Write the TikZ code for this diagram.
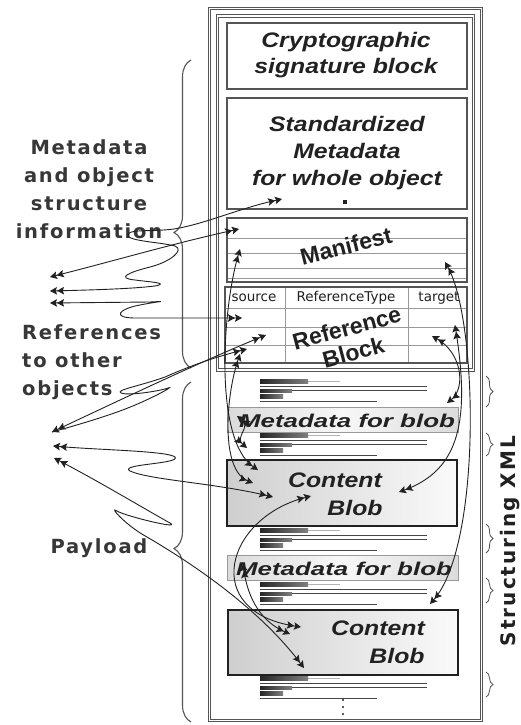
\documentclass[tikz,border=0pt]{standalone}
\usepackage{fontspec}
\setmainfont{Liberation Sans}
\newfontfamily\boxfont[FakeStretch=1.18]{Liberation Sans}
\newfontfamily\stripfont[FakeStretch=1.4]{Liberation Sans}
\newfontfamily\handfont[LetterSpace=9]{DejaVu Sans}
\newfontfamily\sidefont[LetterSpace=10]{DejaVu Sans}
\newfontfamily\tabfont{DejaVu Sans}
\usetikzlibrary{arrows.meta,decorations.pathreplacing}

\definecolor{ink}{gray}{0.13}
\definecolor{rim}{gray}{0.33}
\definecolor{rule}{gray}{0.6}

\tikzset{
  fl/.tip={Stealth[length=7pt,width=7.5pt,inset=1.3pt]Stealth[length=7pt,width=7.5pt,inset=1.3pt]},
  link/.style={draw=ink, line width=0.9pt, fl-fl},
  inlink/.style={draw=ink, line width=0.9pt, fl-},
  dframe/.style={draw=rim, line width=1.1pt, double=white, double distance=1.5pt},
  panel/.style={draw=rim, line width=1.5pt, inner sep=0pt},
  paneltext/.style={font=\boxfont\bfseries\itshape\fontsize{21}{26}\selectfont, text=ink, align=center, inner sep=0pt},
  bigtext/.style={font=\bfseries\fontsize{23}{25}\selectfont, text=ink, align=center, inner sep=0pt},
  striptext/.style={font=\stripfont\bfseries\itshape\fontsize{18.5}{20}\selectfont, text=ink, inner sep=0pt},
  stripbox/.style={draw=rule, line width=1pt, inner sep=0pt, left color=gray!28, right color=gray!28, middle color=gray!6},
  blobbox/.style={draw=ink, line width=1.6pt, inner sep=0pt, left color=gray!38, right color=gray!4},
  tablabel/.style={font=\tabfont\fontsize{13.5}{13.5}\selectfont, text=ink, inner sep=0pt},
  sidelabel/.style={font=\handfont\bfseries\fontsize{19.5}{28}\selectfont, text=ink!90, inner sep=0pt},
  tabrule/.style={draw=rule, line width=0.8pt},
  lbrace/.style={draw=rim, line width=1.1pt, decorate, decoration={brace, amplitude=17pt, aspect=#1}},
  rbrace/.style={draw=rim, line width=0.8pt, decorate, decoration={brace, amplitude=7pt}},
  xmldark/.style={left color=black!85, right color=black!50},
  xmlline/.style={draw=gray!55!black, line width=1.4pt},
}

% one run of structuring XML markup, drawn as bars starting at height #1
\newcommand\xmlbars[1]{%
  \fill[xmldark] (260,#1) rectangle (308,#1+4.5);
  \draw[gray!60, line width=1pt] (308,#1+2) -- (340,#1+2);
  \draw[xmlline] (260,#1+7.5) -- (427,#1+7.5);
  \draw[xmlline, line width=1.1pt] (260,#1+11.5) -- (427,#1+11.5);
  \fill[xmldark] (260,#1+10) rectangle (292,#1+13);
  \fill[xmldark] (260,#1+15) rectangle (283,#1+19.5);
  \draw[xmlline, line width=1pt] (260,#1+22.5) -- (377,#1+22.5);
}

\begin{document}
\begin{tikzpicture}[x=1pt,y=-1pt]
\useasboundingbox (0,0) rectangle (520,725);
\fill[white] (0,0) rectangle (520,725);

% object container and header section
\draw[dframe] (209.5,8.5) rectangle (481.5,720.5);
\draw[dframe] (217.5,16) rectangle (473.5,370);

% header panels
\node[panel, minimum width=240pt, minimum height=66pt] (crypto) at (347,56) {};
\node[paneltext] (cryptotext) at (346,55) {Cryptographic\\signature block};
\node[panel, minimum width=240pt, minimum height=111pt] (stdmeta) at (347,153.5) {};
\node[paneltext, font=\boxfont\bfseries\itshape\fontsize{21}{27}\selectfont] (stdmetatext) at (347,153) {Standardized\\Metadata\\for whole object};
\node[fill=ink, minimum size=4pt, inner sep=0pt] (mdpin) at (345,202) {};

% manifest
\node[panel, minimum width=240pt, minimum height=64pt] (manifest) at (347,250) {};
\foreach \yy in {238,253,268,278} \draw[tabrule] (228,\yy) -- (466,\yy);
\node[bigtext, rotate=14] (manifesttext) at (346,246) {Manifest};

% reference block table
\node[panel, minimum width=242pt, minimum height=76pt] (refblock) at (346,325) {};
\foreach \yy in {308,327,345} \draw[tabrule] (226,\yy) -- (466,\yy);
\foreach \xx in {285,408} \draw[tabrule] (\xx,288) -- (\xx,362);
\node[tablabel] (colsource) at (254,298) {source};
\node[tablabel] (coltype) at (346,298) {ReferenceType};
\node[tablabel] (coltarget) at (439,298) {target};
\node[bigtext, rotate=15] (reftext) at (350,340) {Reference\\Block};

% payload: metadata strips and content blobs
\node[stripbox, minimum width=231pt, minimum height=25pt] (stripA) at (342.5,419.5) {};
\node[striptext, anchor=base] (stripAtext) at (347,427) {Metadata for blob};
\node[blobbox, minimum width=230pt, minimum height=66pt] (blobA) at (342,493) {};
\node[paneltext, anchor=base] (blobAtop) at (335,487) {Content};
\node[paneltext, anchor=base] (blobAbot) at (355,515) {Blob};
\node[stripbox, minimum width=231pt, minimum height=25pt] (stripB) at (342.5,567.5) {};
\node[striptext, anchor=base] (stripBtext) at (344,575) {Metadata for blob};
\node[blobbox, minimum width=230pt, minimum height=65pt] (blobB) at (343,642.5) {};
\node[paneltext, anchor=base] (blobBtop) at (378,635) {Content};
\node[paneltext, anchor=base] (blobBbot) at (397,663) {Blob};

% structuring XML between the parts
\xmlbars{379}
\xmlbars{433}
\xmlbars{528}
\xmlbars{582}
\xmlbars{676}
\foreach \yy in {700,707,714} \fill[ink] (343,\yy) circle (1.2);

% braces marking the XML runs
\draw[rbrace] (486,376) -- (486,407);
\draw[rbrace] (486,433) -- (486,456);
\draw[rbrace] (486,524) -- (486,553);
\draw[rbrace] (486,578) -- (486,603);
\draw[rbrace] (486,672) -- (486,697);
\node[font=\sidefont\bfseries\fontsize{20}{20}\selectfont, text=ink, rotate=90, anchor=base, inner sep=0pt] (xmllabel) at (515,541) {Structuring XML};

% braces on the left
\draw[lbrace=0.44] (191,368) -- (191,60);
\draw[lbrace=0.51] (191,722) -- (191,382);

% left labels
\node[sidelabel, align=center, anchor=north] (mdlabel) at (89,139) {Metadata\\and object\\structure\\information};
\node[sidelabel, align=left, anchor=north west] (reflabel) at (22,324) {References\\to other\\objects};
\node[sidelabel, anchor=base] (payload) at (99,553) {Payload};

% connector end points
\coordinate (mdA) at (282,199);
\coordinate (mfA) at (239,229);
\coordinate (srcA) at (242,318);
\coordinate (outA) at (50,277);
\coordinate (outB) at (50,291);
\coordinate (outC) at (50,303);
\coordinate (refR) at (266,335);
\coordinate (refL) at (247,349);
\coordinate (outD) at (52,432);
\coordinate (outE) at (53,446);
\coordinate (outF) at (54,458);
\coordinate (blobA1) at (258,470);
\coordinate (blobA2) at (253,483);
\coordinate (blobA3) at (273,497);
\coordinate (blobAr) at (399,492);
\coordinate (blobAc) at (311,496);
\coordinate (mfL) at (240,249);
\coordinate (mfR) at (445,262);
\coordinate (refB) at (240,354);
\coordinate (tgtA) at (455,325);
\coordinate (tgtB) at (432,336);
\coordinate (mbA1) at (237,416);
\coordinate (mbA2) at (247,448);
\coordinate (mbAr) at (447,403);
\coordinate (mbB1) at (243,564);
\coordinate (blobB1) at (301,627);
\coordinate (blobB2) at (290,634);
\coordinate (blobB3) at (304,668);
\coordinate (blobBr) at (430,604);

% links from the header out to other objects
\draw[link] (mdA) .. controls (240,208) and (205,224) .. (174,229)
  .. controls (150,232) and (132,229) .. (128,234)
  .. controls (124,241) and (160,242) .. (175,246)
  .. controls (185,250) and (170,262) .. (150,267)
  .. controls (130,272) and (115,278) .. (135,280)
  .. controls (150,282) and (170,283) .. (155,286)
  .. controls (130,289) and (90,290) .. (outB);
\draw[link] (mfA) .. controls (175,243) and (110,262) .. (outA);
\draw[link] (srcA) -- (135,318) .. controls (112,318) and (118,309) .. (140,305)
  .. controls (160,301) and (170,301) .. (150,302) -- (outC);
\draw[link] (refR) .. controls (200,362) and (120,400) .. (outD);
\draw[inlink] (refL) .. controls (215,357) and (190,366) .. (165,377)
  .. controls (140,386) and (115,390) .. (121,393)
  .. controls (128,396) and (160,391) .. (168,388)
  .. controls (176,385) and (150,400) .. (120,411)
  .. controls (95,420) and (70,427) .. (outD);
\draw[link] (outE) .. controls (100,450) and (168,451) .. (175,457)
  .. controls (181,464) and (118,464) .. (130,471)
  .. controls (150,480) and (215,483) .. (blobA3);
\draw[link] (outF) .. controls (100,482) and (150,512) .. (170,523)
  .. controls (182,530) and (125,516) .. (117,511)
  .. controls (108,505) and (125,525) .. (147,537)
  .. controls (200,568) and (262,612) .. (blobB3);

% links inside the object
\draw[link] (mfL) .. controls (222,310) and (214,440) .. (blobA1);
\draw[link] (refB) .. controls (226,395) and (220,470) .. (blobA2);
\draw[link] (mbA1) .. controls (252,427) and (234,437) .. (mbA2);
\draw[link] (tgtA) .. controls (470,420) and (460,470) .. (blobAr);
\draw[link] (tgtB) .. controls (462,353) and (466,388) .. (mbAr);
\draw[link] (mfR) .. controls (478,320) and (482,545) .. (blobBr);
\draw[link] (blobAc) .. controls (225,518) and (200,612) .. (blobB1);
\draw[link] (mbB1) .. controls (248,600) and (262,622) .. (blobB2);
\end{tikzpicture}
\end{document}
